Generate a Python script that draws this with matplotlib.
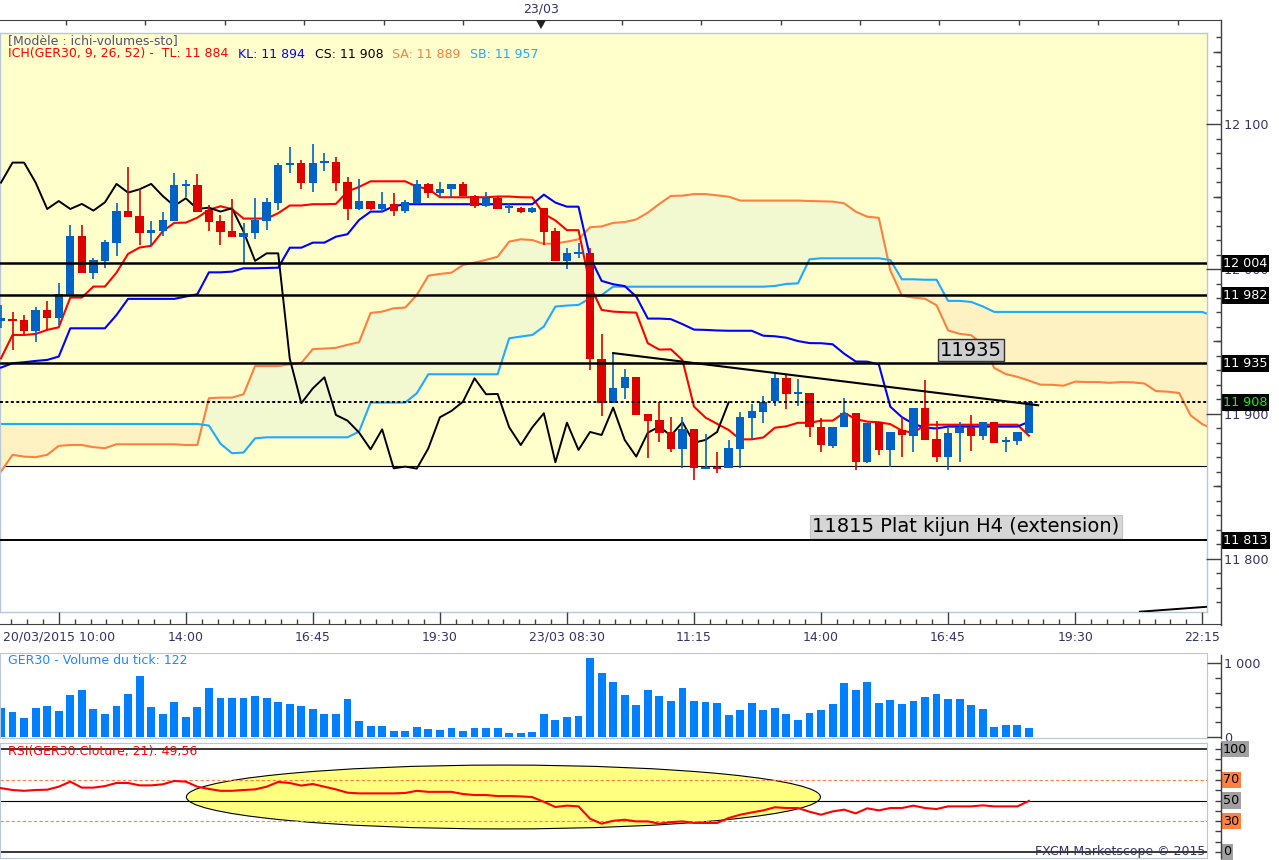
import numpy as np
import matplotlib
matplotlib.use("Agg")
import matplotlib.pyplot as plt
from matplotlib.patches import Ellipse, Polygon
from matplotlib.lines import Line2D
import matplotlib.transforms as mtransforms

# ---------------- data (15-min candles, GER30) ----------------
opens = [11964.4, 11965.3, 11964.9, 11957.5, 11971.8, 11966.5, 11981.6, 12022.8, 11997.5, 12005.6,
         12018.2, 12040.0, 12036.6, 12024.6, 12026.5, 12033.4, 12057.5, 12058.0, 12040.7, 12033.4,
         12026.2, 12022.3, 12024.6, 12033.4, 12045.8, 12071.5, 12073.4, 12059.6, 12073.0, 12073.6,
         12060.3, 12041.4, 12046.9, 12041.4, 12044.9, 12040.3, 12045.3, 12058.7, 12052.7, 12055.0,
         12058.7, 12050.4, 12043.5, 12048.8, 12042.2, 12041.9, 12039.6, 12041.9, 12026.2, 12005.6,
         12010.5, 12010.8, 11938.2, 11907.4, 11917.7, 11925.3, 11900.0, 11895.8, 11887.8, 11875.9,
         11889.4, 11862.3, 11863.7, 11862.5, 11875.9, 11897.5, 11901.6, 11909.2, 11924.6, 11913.6,
         11914.2, 11890.8, 11878.2, 11890.8, 11900.5, 11866.7, 11894.7, 11875.2, 11888.7, 11885.0,
         11904.4, 11882.8, 11870.6, 11886.7, 11891.3, 11885.0, 11894.3, 11880.9, 11881.6, 11887.1]
highs = [11975.2, 11970.6, 11968.3, 11974.1, 11977.9, 11990.2, 12030.4, 12030.4, 12007.4, 12020.0,
         12045.8, 12070.6, 12055.0, 12033.4, 12039.3, 12066.0, 12061.4, 12065.6, 12044.2, 12037.3,
         12048.1, 12032.0, 12048.8, 12048.8, 12072.9, 12083.9, 12075.2, 12086.0, 12079.8, 12077.5,
         12063.7, 12061.9, 12046.9, 12053.1, 12052.7, 12047.6, 12061.4, 12059.1, 12060.3, 12058.7,
         12060.3, 12051.1, 12053.1, 12050.4, 12045.8, 12043.0, 12043.0, 12041.9, 12028.1, 12014.3,
         12017.7, 12014.3, 11955.2, 11941.9, 11930.8, 11925.3, 11900.0, 11908.5, 11897.7, 11898.2,
         11889.4, 11886.2, 11873.6, 11882.1, 11901.1, 11906.9, 11912.6, 11928.0, 11926.9, 11923.9,
         11914.2, 11897.0, 11890.8, 11910.8, 11900.5, 11894.0, 11894.7, 11887.6, 11898.2, 11904.4,
         11923.4, 11895.2, 11890.6, 11894.7, 11899.3, 11894.3, 11894.3, 11883.9, 11887.6, 11909.2]
lows = [11959.1, 11944.2, 11955.2, 11949.9, 11958.0, 11961.4, 11981.6, 11997.5, 11993.1, 12000.5,
        12009.0, 12036.1, 12016.6, 12016.6, 12022.8, 12033.4, 12049.9, 12039.6, 12026.5, 12016.6,
        12022.3, 12003.3, 12020.9, 12026.9, 12040.7, 12066.0, 12055.0, 12053.4, 12067.6, 12054.1,
        12033.8, 12040.7, 12040.7, 12039.3, 12036.6, 12038.9, 12045.3, 12049.2, 12049.9, 12049.9,
        12050.4, 12042.3, 12042.6, 12041.4, 12038.9, 12038.4, 12038.4, 12016.6, 12005.6, 12000.0,
        12007.4, 11930.4, 11898.7, 11907.4, 11910.2, 11899.3, 11869.5, 11881.0, 11874.0, 11862.5,
        11854.5, 11862.3, 11859.5, 11862.5, 11862.5, 11882.1, 11894.0, 11905.5, 11903.2, 11905.7,
        11883.9, 11874.0, 11876.3, 11890.8, 11861.4, 11866.0, 11871.7, 11863.7, 11870.6, 11874.0,
        11882.1, 11867.1, 11861.4, 11867.1, 11874.7, 11882.1, 11880.2, 11874.0, 11878.6, 11887.1]
closes = [11966.0, 11964.4, 11957.5, 11971.8, 11966.5, 11982.6, 12022.8, 11997.5, 12006.2, 12018.7,
          12040.0, 12036.1, 12024.6, 12026.9, 12033.8, 12058.0, 12058.0, 12039.6, 12032.7, 12025.8,
          12022.3, 12024.6, 12033.8, 12046.2, 12071.8, 12072.9, 12059.6, 12073.4, 12073.4, 12059.6,
          12041.4, 12046.9, 12041.4, 12044.9, 12040.3, 12046.0, 12058.7, 12052.7, 12055.0, 12058.7,
          12050.4, 12043.5, 12048.8, 12041.4, 12042.3, 12039.6, 12041.9, 12025.8, 12005.6, 12010.8,
          12010.8, 11938.2, 11907.4, 11917.7, 11925.3, 11899.3, 11895.4, 11887.2, 11875.6, 11889.4,
          11862.5, 11863.7, 11862.3, 11876.3, 11897.7, 11902.1, 11908.5, 11924.6, 11913.6, 11913.8,
          11890.8, 11878.6, 11890.8, 11900.5, 11866.7, 11894.0, 11875.2, 11887.6, 11885.5, 11904.4,
          11882.1, 11870.6, 11887.1, 11891.3, 11885.0, 11894.3, 11880.2, 11882.1, 11887.6, 11908.0]

tenkan = [11938.4, 11954.5, 11954.5, 11955.2, 11958.0, 11959.8, 11980.3, 11980.3, 11987.9, 11987.9,
          11997.5, 12010.4, 12014.8, 12016.0, 12026.0, 12031.8, 12032.0, 12035.4, 12040.8, 12043.3,
          12041.3, 12034.8, 12034.8, 12034.8, 12038.5, 12043.8, 12043.8, 12044.7, 12044.7, 12044.9,
          12053.5, 12056.6, 12060.5, 12060.5, 12060.5, 12060.5, 12056.8, 12055.2, 12049.5, 12049.5,
          12049.5, 12049.5, 12049.5, 12050.0, 12050.0, 12049.5, 12049.4, 12038.0, 12033.5, 12026.8,
          12026.8, 11988.5, 11971.8, 11970.6, 11970.2, 11969.9, 11948.8, 11944.4, 11944.6, 11937.2,
          11905.1, 11897.5, 11893.2, 11889.0, 11882.5, 11882.5, 11883.8, 11890.5, 11891.5, 11893.9,
          11893.9, 11895.4, 11895.4, 11900.8, 11896.5, 11894.7, 11894.3, 11893.0, 11888.5, 11887.0,
          11892.6, 11892.6, 11892.6, 11892.6, 11892.6, 11892.6, 11892.6, 11892.6, 11892.6, 11885.0]
kijun = [11932.0, 11935.0, 11935.7, 11936.6, 11937.3, 11939.6, 11959.1, 11959.1, 11959.1, 11959.1,
         11968.3, 11979.4, 11979.4, 11979.4, 11979.4, 11979.4, 11981.0, 11982.6, 11997.7, 11997.7,
         11998.2, 12000.5, 12000.5, 12000.7, 12000.9, 12014.7, 12014.7, 12018.2, 12018.2, 12022.3,
         12024.0, 12033.8, 12039.6, 12039.6, 12043.3, 12044.7, 12044.7, 12044.7, 12044.7, 12044.7,
         12044.7, 12044.7, 12044.7, 12044.7, 12044.7, 12044.7, 12044.7, 12051.3, 12045.8, 12043.0,
         12043.0, 12008.2, 11991.8, 11989.5, 11988.2, 11981.0, 11965.8, 11965.8, 11965.4, 11962.0,
         11958.2, 11958.0, 11957.6, 11957.4, 11957.4, 11957.4, 11954.0, 11953.6, 11952.6, 11950.3,
         11948.9, 11948.8, 11948.1, 11941.6, 11936.2, 11936.1, 11934.2, 11905.0, 11897.8, 11893.2,
         11890.5, 11890.0, 11891.3, 11891.3, 11891.3, 11891.3, 11891.3, 11891.3, 11891.3, 11894.7]
senkou_a = [11860.3, 11871.8, 11870.6, 11870.2, 11871.8, 11878.0, 11878.6, 11878.6, 11877.1, 11876.4,
            11879.1, 11879.1, 11879.1, 11879.1, 11879.1, 11879.1, 11878.6, 11878.6, 11910.9, 11911.3,
            11911.3, 11913.6, 11933.1, 11933.1, 11933.1, 11934.3, 11935.2, 11944.8, 11945.1, 11945.6,
            11947.7, 11949.5, 11969.7, 11970.6, 11972.9, 11973.4, 11982.1, 11995.4, 11996.6, 11997.5,
            12002.8, 12004.4, 12006.3, 12008.5, 12018.9, 12020.5, 12020.0, 12017.3, 12017.7, 12018.9,
            12020.5, 12028.8, 12029.4, 12031.8, 12032.4, 12034.2, 12038.9, 12044.9, 12050.4, 12050.6,
            12051.7, 12051.7, 12050.8, 12049.9, 12047.2, 12047.2, 12047.2, 12047.2, 12047.2, 12047.2,
            12046.9, 12046.7, 12046.5, 12045.3, 12039.6, 12036.1, 12035.3, 11999.0, 11981.6, 11980.3,
            11979.5, 11975.0, 11957.6, 11955.3, 11954.3, 11948.0, 11931.7, 11927.5, 11925.6, 11923.0,
            11920.2, 11920.1, 11919.5, 11922.3, 11922.0, 11922.0, 11921.5, 11922.0, 11921.8, 11921.0,
            11915.8, 11915.4, 11914.5, 11899.0, 11893.0, 11889.4]
senkou_b = [11893.1, 11893.1, 11893.1, 11893.1, 11893.1, 11893.1, 11893.1, 11893.1, 11893.1, 11893.1,
            11893.1, 11893.1, 11893.1, 11893.1, 11893.1, 11893.1, 11893.1, 11893.1, 11892.0, 11879.5,
            11872.9, 11873.4, 11883.2, 11883.9, 11883.9, 11883.9, 11883.9, 11883.9, 11883.9, 11883.9,
            11883.9, 11887.8, 11907.9, 11907.9, 11907.9, 11907.9, 11914.3, 11927.4, 11927.4, 11927.4,
            11927.4, 11927.4, 11927.4, 11927.4, 11952.2, 11953.4, 11954.5, 11960.3, 11974.1, 11974.8,
            11975.2, 11979.8, 11982.0, 11987.8, 11987.8, 11987.8, 11987.8, 11987.8, 11987.8, 11987.8,
            11987.8, 11987.8, 11987.8, 11987.8, 11987.8, 11987.8, 11987.8, 11988.3, 11989.7, 11990.1,
            12006.7, 12007.4, 12007.4, 12007.4, 12007.4, 12007.4, 12007.4, 12006.2, 11992.9, 11992.9,
            11992.6, 11992.6, 11978.0, 11978.0, 11977.3, 11974.2, 11970.4, 11970.4, 11970.4, 11970.4,
            11970.4, 11970.4, 11970.4, 11970.4, 11970.4, 11970.4, 11970.4, 11970.4, 11970.4, 11970.4,
            11970.4, 11970.4, 11970.4, 11970.4, 11970.4, 11967.5]
chikou_shift = 26

volumes = [391, 333, 256, 391, 414, 346, 562, 630, 373, 306,
           414, 576, 819, 400, 306, 472, 265, 400, 657, 522,
           522, 522, 549, 522, 468, 441, 414, 373, 306, 306,
           508, 211, 144, 144, 76, 76, 130, 103, 90, 117,
           76, 117, 117, 117, 49, 49, 63, 306, 225, 265,
           279, 1062, 859, 738, 562, 427, 630, 549, 481, 657,
           481, 468, 454, 292, 360, 454, 360, 387, 306, 225,
           319, 360, 441, 724, 630, 738, 454, 495, 441, 481,
           535, 576, 508, 508, 427, 373, 130, 157, 157, 122]
rsi = [62, 60.2, 59.4, 60.2, 60.5, 63.4, 68.3, 62.5, 62.5, 64,
       67, 67, 64.7, 64.7, 65.7, 69, 68.3, 63.4, 61.2, 59.4,
       59.4, 60.2, 60.8, 63.4, 68, 67, 64.5, 66, 63.4, 60.8,
       57.6, 56.9, 56.9, 56.9, 56.9, 57.3, 59.4, 58.4, 58.4, 58.4,
       56.3, 55.3, 55.3, 54.3, 54.3, 54, 53.3, 48.7, 43.7, 45,
       44.3, 32.3, 27.5, 30.3, 31.3, 29.7, 29.7, 27.5, 29, 29.7,
       28.2, 28.2, 28.2, 33, 36.2, 38.4, 40.4, 43.4, 42.7, 42.7,
       39.1, 36.2, 39.4, 41.1, 37.5, 42.4, 40.4, 42.7, 42.7, 45,
       42.7, 41.7, 44.3, 44.3, 44.3, 45.3, 44.3, 44.3, 44.3, 49.56]

levels_solid = [12004, 11982, 11935]
level_current = 11908
level_extension = 11813
zone_floor = 11864
trend_x = [53, 89.8]
trend_y = [11942, 11906]
edge_line_x = [98.6, 104.4]
edge_line_y = [11763.6, 11767.0]
time_ticks = [5, 16, 27, 38, 49, 60, 71, 82, 93, 104]
time_labels = ['20/03/2015 10:00', '14:00', '16:45', '19:30', '23/03 08:30',
               '11:15', '14:00', '16:45', '19:30', '22:15']
price_ticks = [11800, 11900, 12000, 12100]
price_mid_ticks = [11850, 11950, 12050, 12150]
rsi_marks = [100, 70, 50, 30, 0]
rsi_mark_colors = ['#A0A0A0', '#FF8040', '#A0A0A0', '#FF8040', '#A0A0A0']
rsi_ellipse = dict(center=(43.5, 53.4), width=54.9, height=62)

# ---------------- styling ----------------
W, H = 1279, 860
BG_ZONE = '#FFFFCC'
CLOUD_UP = '#F2F9D0'
CLOUD_DN = '#FFF2C2'
C_TENKAN = '#FF0000'
C_KIJUN = '#0000FF'
C_SA = '#FF7F3F'
C_SB = '#1EAAFF'
BULL = '#0062C4'
BEAR = '#DD0000'
FRAME = '#B8C8D8'
AXC = '#404040'
LBL = '#333366'
SPX = 1221  # right scale spine (pixels)
HF = 9.0    # header font size

fig = plt.figure(figsize=(W / 100, H / 100), dpi=100)
fig.patch.set_facecolor('white')


def px_axes(x0, y0, x1, y1):
    return fig.add_axes([x0 / W, 1 - y1 / H, (x1 - x0) / W, (y1 - y0) / H])


def fx(x):
    return x / W


def fy(y):
    return 1 - y / H


def fmt(v):
    return f"{v:,}".replace(',', ' ')


def scale_axes(y0, y1, ylim):
    a = px_axes(1180, y0, SPX, y1)
    a.set_ylim(ylim)
    a.patch.set_visible(False)
    for s in a.spines.values():
        s.set_visible(False)
    a.set_xticks([])
    a.yaxis.tick_right()
    return a


XL = (-1 / 11.55, 1206 / 11.55)
x = np.arange(len(closes))
o = np.array(opens); c = np.array(closes); h = np.array(highs); l = np.array(lows)

# ---------------- main price axes ----------------
ax = px_axes(0, 33, 1207, 612)
ax.set_xlim(*XL)
ax.set_ylim(11763.4, 12162.8)
ax.set_xticks([]); ax.set_yticks([])
for s in ax.spines.values():
    s.set_color(FRAME); s.set_linewidth(1)
ax.axhspan(zone_floor, 12300, color=BG_ZONE, lw=0, zorder=0)
ax.axhline(zone_floor, color='black', lw=0.8, zorder=1)

xs = np.arange(len(senkou_a))
sa = np.array(senkou_a); sb = np.array(senkou_b)
ax.fill_between(xs, sa, sb, where=sa >= sb, interpolate=True, color=CLOUD_UP, lw=0, zorder=1)
ax.fill_between(xs, sa, sb, where=sa < sb, interpolate=True, color=CLOUD_DN, lw=0, zorder=1)
ax.plot(xs, sa, color=C_SA, lw=1.5, zorder=2)
ax.plot(xs, sb, color=C_SB, lw=1.5, zorder=2)
ax.plot(x, tenkan, color=C_TENKAN, lw=1.5, zorder=3)
ax.plot(x, kijun, color=C_KIJUN, lw=1.5, zorder=3)
ax.plot(x[:-chikou_shift], c[chikou_shift:], color='black', lw=1.4, zorder=3)

cols = np.where(c >= o, BULL, BEAR)
ax.vlines(x, l, h, colors=cols, lw=1.2, zorder=4)
ax.bar(x, np.maximum(np.abs(c - o), 1.3), bottom=np.minimum(o, c), width=0.72,
       color=cols, lw=0, zorder=5)

for lv in levels_solid:
    ax.axhline(lv, color='black', lw=1.8, zorder=6)
ax.axhline(level_extension, color='black', lw=1.4, zorder=6)
ax.axhline(level_current, color='black', lw=1.4, ls=(0, (1.5, 1.3)), zorder=6)
ax.plot(trend_x, trend_y, color='black', lw=1.5, zorder=6)
ax.plot(edge_line_x, edge_line_y, color='black', lw=1.4, zorder=6)

ax.text(83.98, 11944.1, '11935', ha='center', va='center', fontsize=14, color='black', zorder=8,
        bbox=dict(boxstyle='square,pad=0.1', fc='#CFCFCF', ec='#333333', lw=1))
ax.text(83.55, 11822.1, '11815 Plat kijun H4 (extension)', ha='center', va='center', fontsize=14,
        color='black', zorder=8,
        bbox=dict(boxstyle='square,pad=0.1', fc='#D6D6D6', ec='#C4C4C4', lw=0.8))

# header texts
fig.text(fx(8), fy(41), '[Modèle : ichi-volumes-sto]', color='#505080', fontsize=HF, va='center')
fig.text(fx(8), fy(54), 'ICH(GER30, 9, 26, 52) -  TL: 11 884', color='#FF0000', fontsize=HF, va='center')
fig.text(fx(238), fy(54), 'KL: 11 894', color='#0000FF', fontsize=HF, va='center')
fig.text(fx(315), fy(54), 'CS: 11 908', color='black', fontsize=HF, va='center')
fig.text(fx(392), fy(54), 'SA: 11 889', color=C_SA, fontsize=HF, va='center')
fig.text(fx(470), fy(54), 'SB: 11 957', color=C_SB, fontsize=HF, va='center')

# right price scale
axs = scale_axes(33, 612, ax.get_ylim())
axs.set_yticks(price_ticks)
axs.set_yticklabels([fmt(v) for v in price_ticks])
axs.set_yticks(np.arange(11770, 12161, 10), minor=True)
axs.tick_params(axis='y', which='major', direction='in', length=10.5, width=1, color=AXC,
                pad=2, labelsize=9.2, labelcolor=LBL)
axs.tick_params(axis='y', which='minor', direction='in', length=3.6, width=1, color=AXC)
axs2 = scale_axes(33, 612, ax.get_ylim())
axs2.set_yticks(price_mid_ticks)
axs2.set_yticklabels([])
axs2.tick_params(axis='y', direction='in', length=6, width=1, color=AXC)
tr = mtransforms.blended_transform_factory(fig.transFigure, axs.transData)
for lv, tc in [(levels_solid[0], 'white'), (levels_solid[1], 'white'), (levels_solid[2], 'white'),
               (level_current, '#00FF00'), (level_extension, 'white')]:
    axs.text(fx(SPX + 2), lv, fmt(lv), transform=tr, color=tc, fontsize=9.2, va='center',
             ha='left', clip_on=False, zorder=10,
             bbox=dict(boxstyle='square,pad=0.15', fc='black', ec='none'))

# time axis
axt = px_axes(0, 612, SPX, 624)
axt.set_xlim(XL[0], (SPX - 1) / 11.55)
axt.set_ylim(0, 1)
axt.patch.set_visible(False)
for k in ['top', 'left', 'right']:
    axt.spines[k].set_visible(False)
axt.spines['bottom'].set_color(AXC)
axt.set_yticks([])
axt.set_xticks(time_ticks)
axt.set_xticklabels(time_labels)
minor_t = [t for t in np.arange(time_ticks[0] - 11 / 8 * 3, 105.3, 11 / 8)
           if min(abs(t - m) for m in time_ticks) > 0.1]
axt.set_xticks(minor_t, minor=True)
axt.tick_params(axis='x', which='major', direction='in', length=8.6, width=1, color=AXC,
                pad=5, labelsize=9, labelcolor=LBL)
axt.tick_params(axis='x', which='minor', direction='in', length=3.5, width=1, color=AXC)

# top navigator strip
axn = px_axes(0, 19.5, SPX, 33)
axn.set_xlim(0, SPX); axn.set_ylim(0, 1)
axn.patch.set_visible(False)
for k in ['bottom', 'left', 'right']:
    axn.spines[k].set_visible(False)
axn.spines['top'].set_color(AXC)
axn.set_yticks([])
axn.xaxis.tick_top()
axn.set_xticks(66 + 79.4 * np.arange(15))
axn.set_xticklabels([])
axn.tick_params(axis='x', direction='in', length=3.5, width=1, color=AXC)
fig.text(fx(541), fy(9), '23/03', ha='center', va='center', fontsize=9, color=LBL)
fig.add_artist(Polygon([[fx(536), fy(20)], [fx(546), fy(20)], [fx(541), fy(29)]],
                       closed=True, fc='#222222', ec='none', transform=fig.transFigure))

# figure-level axis lines
fig.add_artist(Line2D([fx(SPX), fx(SPX)], [fy(19.5), fy(624.5)], color=AXC, lw=1))
fig.add_artist(Line2D([fx(SPX), fx(SPX)], [fy(655), fy(738)], color=AXC, lw=1))
fig.add_artist(Line2D([fx(SPX), fx(SPX)], [fy(743), fy(858)], color=AXC, lw=1))

# ---------------- volume panel ----------------
axv = px_axes(0, 653, 1207, 738)
axv.set_xlim(*XL)
axv.set_ylim(-13.5, 1135)
axv.set_xticks([]); axv.set_yticks([])
for s in axv.spines.values():
    s.set_color(FRAME)
axv.bar(x, volumes, width=0.68, color='#0080FF', lw=0)
fig.text(fx(8), fy(661), f'GER30 - Volume du tick: {volumes[-1]}', color='#1E88FF', fontsize=HF,
         va='center')
axvs = scale_axes(653, 738, axv.get_ylim())
axvs.set_yticks([0, 1000])
axvs.set_yticklabels(['0', '1 000'])
axvs.set_yticks([200, 400, 600, 800], minor=True)
axvs.tick_params(axis='y', which='major', direction='in', length=10, width=1, color=AXC,
                 pad=2, labelsize=9.2, labelcolor=LBL)
axvs.tick_params(axis='y', which='minor', direction='in', length=4, width=1, color=AXC)

# ---------------- RSI panel ----------------
axr = px_axes(0, 743, 1207, 858)
axr.set_xlim(*XL)
axr.set_ylim(-5.83, 105.83)
axr.set_xticks([]); axr.set_yticks([])
for s in axr.spines.values():
    s.set_color(FRAME)
axr.add_patch(Ellipse(rsi_ellipse['center'], rsi_ellipse['width'], rsi_ellipse['height'],
                      fc='#FFFF80', ec='black', lw=0.8, zorder=1))
axr.axhline(100, color='black', lw=1.1, zorder=2)
axr.axhline(0, color='black', lw=1.1, zorder=2)
axr.axhline(50, color='black', lw=0.8, zorder=2)
axr.axhline(70, color='#FF8040', lw=0.8, ls=(0, (3, 2)), zorder=2)
axr.axhline(30, color='#FF8040', lw=0.8, ls=(0, (3, 2)), zorder=2)
axr.plot(x, rsi, color='#FF0000', lw=1.5, zorder=4)
rsi_txt = f'{rsi[-1]:.2f}'.replace('.', ',')
fig.text(fx(8), fy(751), f'RSI(GER30.Cloture, 21): {rsi_txt}', color='#FF0000', fontsize=HF,
         va='center')
fig.text(fx(1205), fy(852), 'FXCM Marketscope © 2015', ha='right', va='center', color=LBL,
         fontsize=9)
axrs = scale_axes(743, 858, axr.get_ylim())
axrs.set_yticks(np.arange(0, 101, 10))
axrs.set_yticklabels([])
axrs.tick_params(axis='y', direction='in', length=4, width=1, color=AXC)
trr = mtransforms.blended_transform_factory(fig.transFigure, axrs.transData)
for val, bc in zip(rsi_marks, rsi_mark_colors):
    axrs.text(fx(SPX + 2), val, str(val), transform=trr, color='black', fontsize=9.2, va='center',
              ha='left', clip_on=False, zorder=10,
              bbox=dict(boxstyle='square,pad=0.12', fc=bc, ec='none'))

fig.savefig('out.png', dpi=100, facecolor='white')
